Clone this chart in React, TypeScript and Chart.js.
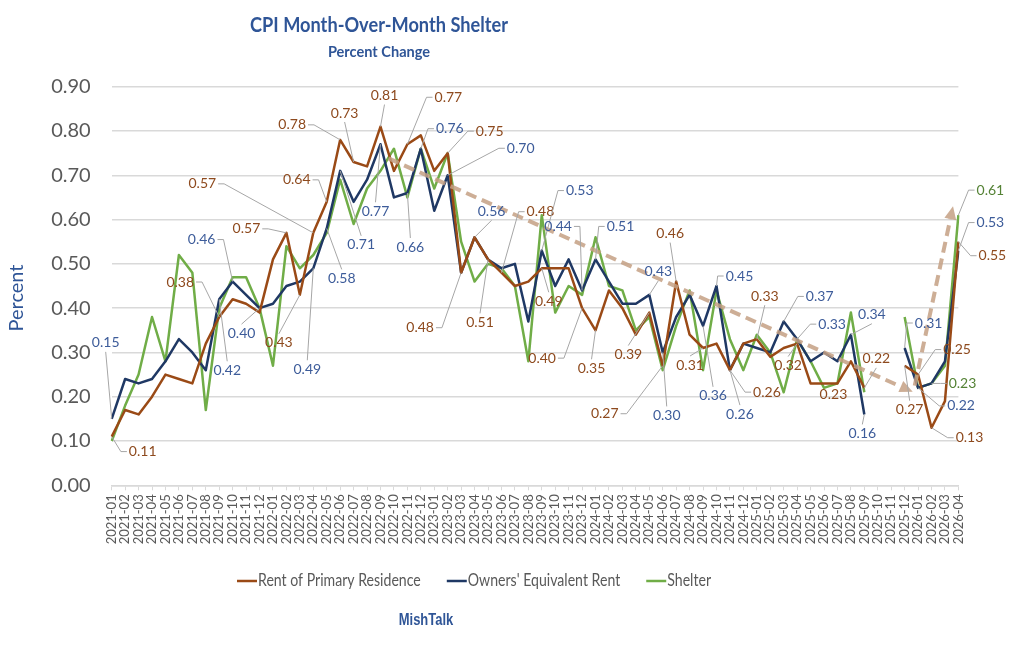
import { useEffect, useRef } from 'react';
import { Chart, registerables } from 'chart.js';

Chart.register(...registerables);

// monthly categories, 2021-01 .. 2026-04
const months = [
  '2021-01', '2021-02', '2021-03', '2021-04', '2021-05', '2021-06', '2021-07', '2021-08', '2021-09', '2021-10', '2021-11', '2021-12',
  '2022-01', '2022-02', '2022-03', '2022-04', '2022-05', '2022-06', '2022-07', '2022-08', '2022-09', '2022-10', '2022-11', '2022-12',
  '2023-01', '2023-02', '2023-03', '2023-04', '2023-05', '2023-06', '2023-07', '2023-08', '2023-09', '2023-10', '2023-11', '2023-12',
  '2024-01', '2024-02', '2024-03', '2024-04', '2024-05', '2024-06', '2024-07', '2024-08', '2024-09', '2024-10', '2024-11', '2024-12',
  '2025-01', '2025-02', '2025-03', '2025-04', '2025-05', '2025-06', '2025-07', '2025-08', '2025-09', '2025-10', '2025-11', '2025-12',
  '2026-01', '2026-02', '2026-03', '2026-04',
];

// no data for 2025-10 and 2025-11
const rent = [
  0.11, 0.17, 0.16, 0.20, 0.25, 0.24, 0.23, 0.32, 0.38, 0.42, 0.41, 0.39,
  0.51, 0.57, 0.43, 0.57, 0.64, 0.78, 0.73, 0.72, 0.81, 0.71, 0.77, 0.79,
  0.71, 0.75, 0.48, 0.56, 0.51, 0.48, 0.45, 0.46, 0.49, 0.49, 0.49, 0.40,
  0.35, 0.44, 0.40, 0.34, 0.39, 0.27, 0.46, 0.34, 0.31, 0.32, 0.26, 0.32,
  0.33, 0.29, 0.31, 0.32, 0.23, 0.23, 0.23, 0.28, 0.22, null, null, 0.27,
  0.25, 0.13, 0.19, 0.55,
];

const oer = [
  0.15, 0.24, 0.23, 0.24, 0.28, 0.33, 0.30, 0.26, 0.42, 0.46, 0.43, 0.40,
  0.41, 0.45, 0.46, 0.49, 0.58, 0.71, 0.64, 0.69, 0.77, 0.65, 0.66, 0.76,
  0.62, 0.70, 0.48, 0.56, 0.51, 0.49, 0.50, 0.37, 0.53, 0.45, 0.51, 0.44,
  0.51, 0.46, 0.41, 0.41, 0.43, 0.30, 0.38, 0.43, 0.36, 0.45, 0.26, 0.32,
  0.31, 0.30, 0.37, 0.33, 0.28, 0.30, 0.28, 0.34, 0.16, null, null, 0.31,
  0.22, 0.23, 0.28, 0.53,
];

const shelter = [
  0.10, 0.18, 0.25, 0.38, 0.28, 0.52, 0.48, 0.17, 0.40, 0.47, 0.47, 0.40,
  0.27, 0.54, 0.49, 0.52, 0.57, 0.69, 0.59, 0.67, 0.71, 0.76, 0.65, 0.76,
  0.67, 0.75, 0.55, 0.46, 0.50, 0.49, 0.45, 0.28, 0.61, 0.39, 0.45, 0.43,
  0.56, 0.45, 0.44, 0.35, 0.38, 0.26, 0.36, 0.44, 0.26, 0.44, 0.33, 0.26,
  0.34, 0.30, 0.21, 0.33, 0.28, 0.22, 0.23, 0.39, 0.21, null, null, 0.38,
  0.22, 0.23, 0.27, 0.61,
];

const yTicks = [0, 0.1, 0.2, 0.3, 0.4, 0.5, 0.6, 0.7, 0.8, 0.9];

// which points carry a value label: [month index, label offset x, label offset y]
const rentLabelAt = [
  [0, 31, 15], [8, -39, -35], [13, -40, -4], [14, -21, 48], [15, -111, -49], [16, -30, -22],
  [17, -48, -15], [18, -9, -49], [20, 4, -31], [22, 41, -47], [25, 42, -22], [26, -41, 55],
  [28, -8, 63], [29, 39, -61], [32, 7, 33], [35, -40, 50], [36, -4, 38], [40, -21, 42],
  [41, -58, 48], [42, -6, -48], [44, -13, 17], [46, 37, 22], [48, 8, -43], [51, -9, 22],
  [54, -4, 11], [56, 12, -29], [59, 5, 44], [60, 39, -25], [61, 38, 10], [63, 34, 14],
];
const oerLabelAt = [
  [0, -6, -76], [8, 8, 71], [9, -31, -42], [11, -18, 25], [15, -6, 101], [16, 15, 50],
  [17, 21, 74], [20, -5, 67], [22, 3, 54], [23, 29, -20], [25, 73, -27], [27, 17, -26],
  [32, 38, -60], [35, -24, -64], [36, 25, -33], [40, 9, -23], [41, 4, 63], [44, 10, 70],
  [45, 23, -10], [46, 10, 44], [50, 36, -25], [51, 35, -15], [55, 21, -20], [56, -2, 19],
  [59, 24, -25], [60, 43, 18], [63, 32, -28],
];
const shelterLabelAt = [
  [61, 31, 0], [63, 32, -25],
];

// dashed trend arrows, in [month index, percent]
const trendDown = [[20.6, 0.738], [59.6, 0.211]];
const trendUp = [[59.75, 0.225], [62.6, 0.63]];

const FONT = 'Lato, "Open Sans", sans-serif';
const TITLE_BLUE = '#2F5597';
const GRID = '#D9D9D9';
const AXIS_TEXT = '#595959';
const LEADER = '#A6A6A6';
const TREND = 'rgba(196, 160, 132, 0.85)';

const seriesStyle = [
  { label: 'Rent of Primary Residence', line: '#9A4A16', text: '#8E4A1E' },
  { label: "Owners' Equivalent Rent", line: '#1F3864', text: '#3D5C9A' },
  { label: 'Shelter', line: '#70AD47', text: '#548235' },
];

// the reference uses a narrow face; squeeze Lato horizontally to get close
function narrowText(ctx: CanvasRenderingContext2D, text: string, x: number, y: number, sx: number) {
  ctx.save();
  ctx.translate(x, y);
  ctx.scale(sx, 1);
  ctx.fillText(text, 0, 0);
  ctx.restore();
}

function drawArrow(ctx: CanvasRenderingContext2D, x0: number, y0: number, x1: number, y1: number) {
  const ang = Math.atan2(y1 - y0, x1 - x0);
  const head = 13;
  const bx = x1 - Math.cos(ang) * head;
  const by = y1 - Math.sin(ang) * head;
  ctx.beginPath();
  ctx.setLineDash([11, 6]);
  ctx.moveTo(x0, y0);
  ctx.lineTo(bx, by);
  ctx.stroke();
  ctx.setLineDash([]);
  ctx.beginPath();
  ctx.moveTo(x1, y1);
  ctx.lineTo(bx + Math.cos(ang + Math.PI / 2) * 6, by + Math.sin(ang + Math.PI / 2) * 6);
  ctx.lineTo(bx + Math.cos(ang - Math.PI / 2) * 6, by + Math.sin(ang - Math.PI / 2) * 6);
  ctx.closePath();
  ctx.fill();
}

const decorPlugin = {
  id: 'decor',
  afterDatasetsDraw(chart: any) {
    const { ctx, scales } = chart;
    const xs = scales.x;
    const ys = scales.y;

    // trend arrows
    ctx.save();
    ctx.strokeStyle = TREND;
    ctx.fillStyle = TREND;
    ctx.lineWidth = 4;
    for (const seg of [trendDown, trendUp]) {
      drawArrow(
        ctx,
        xs.getPixelForValue(seg[0][0]), ys.getPixelForValue(seg[0][1]),
        xs.getPixelForValue(seg[1][0]), ys.getPixelForValue(seg[1][1]),
      );
    }
    ctx.restore();

    // value labels with leader lines
    const labelSets = [rentLabelAt, oerLabelAt, shelterLabelAt];
    ctx.save();
    ctx.font = `14px ${FONT}`;
    ctx.textAlign = 'center';
    ctx.textBaseline = 'middle';
    labelSets.forEach((set, di) => {
      const meta = chart.getDatasetMeta(di);
      const values = chart.data.datasets[di].data;
      for (const [idx, dx, dy] of set) {
        const pt = meta.data[idx];
        const v = values[idx];
        if (!pt || v == null) continue;
        const px = pt.x;
        const py = pt.y;
        const cx = px + dx;
        const cy = py + dy;
        const text = Number(v).toFixed(2);
        const halfW = ctx.measureText(text).width / 2 + 2;
        const halfH = 8;
        const ddx = px - cx;
        const ddy = py - cy;
        if (Math.abs(ddx) > halfW + 6 || Math.abs(ddy) > halfH + 6) {
          ctx.beginPath();
          ctx.strokeStyle = LEADER;
          ctx.lineWidth = 1;
          if (Math.abs(ddx) > halfW + 6) {
            const side = Math.sign(ddx);
            const ax = cx + side * halfW;
            ctx.moveTo(ax, cy);
            ctx.lineTo(ax + side * 6, cy);
          } else {
            ctx.moveTo(cx, cy + Math.sign(ddy) * (halfH + 1));
          }
          ctx.lineTo(px, py);
          ctx.stroke();
        }
        ctx.fillStyle = seriesStyle[di].text;
        ctx.fillText(text, cx, cy);
      }
    });
    ctx.restore();
  },
  afterDraw(chart: any) {
    const { ctx } = chart;
    ctx.save();
    ctx.textAlign = 'center';
    ctx.textBaseline = 'middle';
    ctx.fillStyle = TITLE_BLUE;
    ctx.font = `bold 21px ${FONT}`;
    narrowText(ctx, 'CPI Month-Over-Month Shelter', 379, 25, 0.866);
    ctx.font = `bold 16px ${FONT}`;
    narrowText(ctx, 'Percent Change', 379, 52, 0.91);

    // y axis title
    ctx.save();
    ctx.translate(17, 298);
    ctx.rotate(-Math.PI / 2);
    ctx.font = `20px ${FONT}`;
    ctx.fillText('Percent', 0, 0);
    ctx.restore();

    // legend
    const legendSx = 0.83;
    ctx.font = `17px ${FONT}`;
    ctx.textAlign = 'left';
    let lx = 237;
    const ly = 581;
    seriesStyle.forEach((s) => {
      ctx.strokeStyle = s.line;
      ctx.lineWidth = 2.5;
      ctx.beginPath();
      ctx.moveTo(lx, ly);
      ctx.lineTo(lx + 20, ly);
      ctx.stroke();
      ctx.fillStyle = AXIS_TEXT;
      narrowText(ctx, s.label, lx + 21, ly, legendSx);
      lx += 21 + ctx.measureText(s.label).width * legendSx + 26;
    });

    // source
    ctx.textAlign = 'center';
    ctx.fillStyle = TITLE_BLUE;
    ctx.font = 'bold 16px "Liberation Sans", Arial, sans-serif';
    narrowText(ctx, 'MishTalk', 426, 621, 0.81);
    ctx.restore();
  },
};

export default function App() {
  const canvasRef = useRef<HTMLCanvasElement>(null);

  useEffect(() => {
    if (!canvasRef.current) return;
    const chart = new Chart(canvasRef.current, {
      type: 'line',
      data: {
        labels: months,
        datasets: [
          { label: seriesStyle[0].label, data: rent, borderColor: seriesStyle[0].line, backgroundColor: seriesStyle[0].line },
          { label: seriesStyle[1].label, data: oer, borderColor: seriesStyle[1].line, backgroundColor: seriesStyle[1].line },
          { label: seriesStyle[2].label, data: shelter, borderColor: seriesStyle[2].line, backgroundColor: seriesStyle[2].line },
        ],
      },
      options: {
        animation: false,
        responsive: true,
        maintainAspectRatio: false,
        spanGaps: false,
        layout: { padding: { top: 86.7, right: 65.6, left: 0, bottom: 0 } },
        elements: {
          point: { radius: 0, hoverRadius: 0 },
          line: { borderWidth: 2.5, tension: 0, borderJoinStyle: 'round' },
        },
        plugins: {
          legend: { display: false },
          title: { display: false },
          tooltip: { enabled: false },
        },
        scales: {
          x: {
            offset: false,
            grid: { display: true, drawOnChartArea: false, drawTicks: true, tickLength: 5, color: GRID },
            border: { display: true, color: GRID, width: 1.5 },
            ticks: {
              autoSkip: false,
              minRotation: 90,
              maxRotation: 90,
              padding: 4,
              color: AXIS_TEXT,
              font: { family: FONT, size: 13 },
            },
            afterFit: (s: any) => { s.height = 175.7; },
          },
          y: {
            min: yTicks[0],
            max: yTicks[yTicks.length - 1],
            afterBuildTicks: (s: any) => { s.ticks = yTicks.map((v) => ({ value: v })); },
            ticks: {
              padding: 21,
              color: AXIS_TEXT,
              font: { family: FONT, size: 20 },
              callback: (v: any) => Number(v).toFixed(2),
            },
            grid: { color: GRID, lineWidth: 1.5, drawTicks: false },
            border: { display: false },
            afterFit: (s: any) => { s.width = 111.7; },
          },
        },
      },
      plugins: [decorPlugin],
    });
    return () => chart.destroy();
  }, []);

  return (
    <div style={{ position: 'absolute', left: 0, top: 0, width: 1024, height: 661, background: '#fff' }}>
      <canvas ref={canvasRef} />
    </div>
  );
}
